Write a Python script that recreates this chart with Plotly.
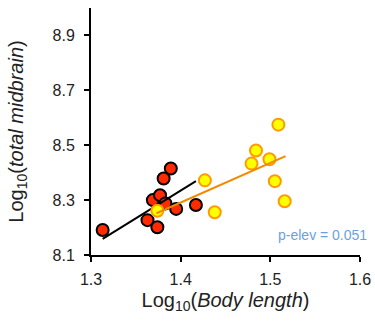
import plotly.graph_objects as go

# Red group (black fit line)
red_x = [1.313, 1.363, 1.374, 1.369, 1.377, 1.383, 1.395, 1.381, 1.389, 1.417]
red_y = [8.191, 8.227, 8.201, 8.300, 8.318, 8.288, 8.268, 8.379, 8.415, 8.282]
# Yellow group (orange fit line)
yel_x = [1.374, 1.427, 1.438, 1.479, 1.484, 1.499, 1.509, 1.505, 1.516]
yel_y = [8.261, 8.372, 8.256, 8.433, 8.481, 8.449, 8.575, 8.369, 8.296]
# Fit line endpoints
black_line_x = [1.313, 1.417]
black_line_y = [8.159, 8.369]
orange_line_x = [1.373, 1.517]
orange_line_y = [8.252, 8.460]

x_ticks = [1.3, 1.4, 1.5, 1.6]
y_ticks = [8.1, 8.3, 8.5, 8.7, 8.9]
annotation_text = "p-elev = 0.051"

FONT = "Liberation Sans, Arial"

fig = go.Figure()
fig.add_trace(go.Scatter(x=red_x, y=red_y, mode="markers", cliponaxis=False,
                         marker=dict(size=12, color="#ff2a00", line=dict(color="black", width=2))))
fig.add_trace(go.Scatter(x=black_line_x, y=black_line_y, mode="lines",
                         line=dict(color="black", width=2)))
fig.add_trace(go.Scatter(x=yel_x, y=yel_y, mode="markers", cliponaxis=False,
                         marker=dict(size=12, color="#ffff00", line=dict(color="#ff9a00", width=2))))
fig.add_trace(go.Scatter(x=orange_line_x, y=orange_line_y, mode="lines",
                         line=dict(color="#f28a00", width=2)))

fig.add_annotation(x=1.6, y=8.1, xref="x", yref="y", text=annotation_text,
                   showarrow=False, xanchor="right", yanchor="middle", yshift=20, xshift=9,
                   font=dict(color="#6c9fdc", size=14, family=FONT))

axis_common = dict(showgrid=False, zeroline=False, showline=True, linecolor="black",
                   linewidth=2, ticks="outside", ticklen=5, tickwidth=2, tickcolor="black",
                   automargin=False,
                   tickfont=dict(size=16, color="#222", family=FONT))

fig.update_xaxes(range=[1.3, 1.6], tickvals=x_ticks, ticktext=[f"{v:.1f}" for v in x_ticks],
                 ticklabelstandoff=4,
                 title=dict(text="Log<sub>10</sub>(<i>Body length</i>)", standoff=6,
                            font=dict(size=20, color="#222", family=FONT)),
                 **axis_common)
fig.update_yaxes(range=[8.1, 9.0], tickvals=y_ticks, ticktext=[f"{v:.1f}" for v in y_ticks],
                 ticklabelstandoff=6,
                 title=dict(text="Log<sub>10</sub>(<i>total midbrain</i>)", standoff=24,
                            font=dict(size=20, color="#222", family=FONT)),
                 **axis_common)

fig.update_layout(template="none", width=375, height=322, showlegend=False,
                  margin=dict(l=91, r=15, t=8, b=67),
                  plot_bgcolor="white", paper_bgcolor="white")

fig.write_html("out.html", config={"displayModeBar": False},
               post_script="document.body.style.margin='0';")
